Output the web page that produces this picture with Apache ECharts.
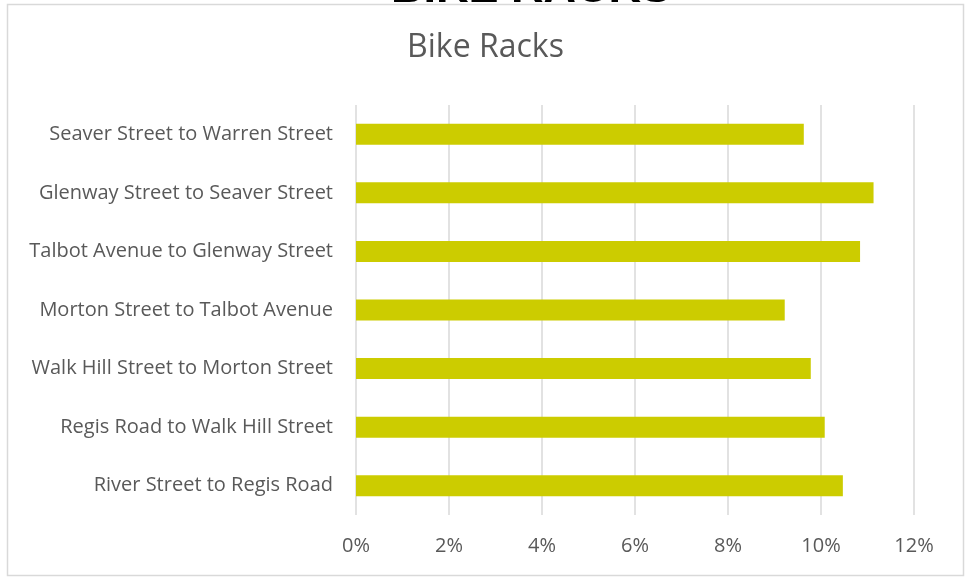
<!DOCTYPE html>
<html>
<head>
<meta charset="utf-8">
<script src="https://cdn.jsdelivr.net/npm/echarts@6/dist/echarts.min.js"></script>
<style>
  html, body { margin: 0; padding: 0; background: #fff; }
  #chart-container { width: 971px; height: 579px; }
</style>
</head>
<body>
<div id="chart-container"></div>
<script>
// categories, bottom to top as on the axis
var categories = [
  'River Street to Regis Road',
  'Regis Road to Walk Hill Street',
  'Walk Hill Street to Morton Street',
  'Morton Street to Talbot Avenue',
  'Talbot Avenue to Glenway Street',
  'Glenway Street to Seaver Street',
  'Seaver Street to Warren Street'
];
// share of bike racks, percent
var values = [10.47, 10.08, 9.78, 9.22, 10.84, 11.13, 9.63];
var tickLabels = ['0%', '2%', '4%', '6%', '8%', '10%', '12%'];

var font = '"Open Sans", Lato, sans-serif';
var grey = '#595959';

var dom = document.getElementById('chart-container');
var myChart = echarts.init(dom);
var option = {
  backgroundColor: '#fff',
  animation: false,
  title: {
    text: 'Bike Racks',
    left: 'center',
    top: 27,
    textStyle: { color: grey, fontSize: 32, fontWeight: 'normal', fontFamily: font }
  },
  graphic: [
    {
      // the chart frame
      type: 'rect',
      shape: { x: 7.5, y: 4.5, width: 956, height: 571 },
      style: { fill: 'none', stroke: '#d9d9d9', lineWidth: 1.5 },
      z: -1
    },
    {
      // heading of the page above, mostly cut off
      type: 'text',
      x: 531,
      y: 12,
      style: {
        text: 'BIKE RACKS',
        fill: '#000',
        font: 'bold 45px "Liberation Sans", Arial, sans-serif',
        align: 'center',
        verticalAlign: 'bottom'
      },
      z: 10
    }
  ],
  grid: {
    left: 356,
    right: 57,
    top: 105,
    bottom: 64
  },
  xAxis: {
    type: 'value',
    min: 0,
    max: 12,
    interval: 2,
    axisLine: { show: false },
    axisTick: { show: false },
    splitLine: { lineStyle: { color: '#d9d9d9', width: 1.5 } },
    axisLabel: {
      color: grey,
      fontSize: 20,
      fontFamily: font,
      margin: 21,
      formatter: function (val) {
        return tickLabels[Math.round(val / 2)];
      }
    }
  },
  yAxis: {
    type: 'category',
    data: categories,
    axisLine: { show: false },
    axisTick: { show: false },
    axisLabel: { color: grey, fontSize: 20, fontFamily: font, margin: 23 }
  },
  series: [
    {
      type: 'bar',
      data: values,
      barWidth: 21,
      itemStyle: { color: '#cccc00' }
    }
  ]
};
myChart.setOption(option);
</script>
</body>
</html>
